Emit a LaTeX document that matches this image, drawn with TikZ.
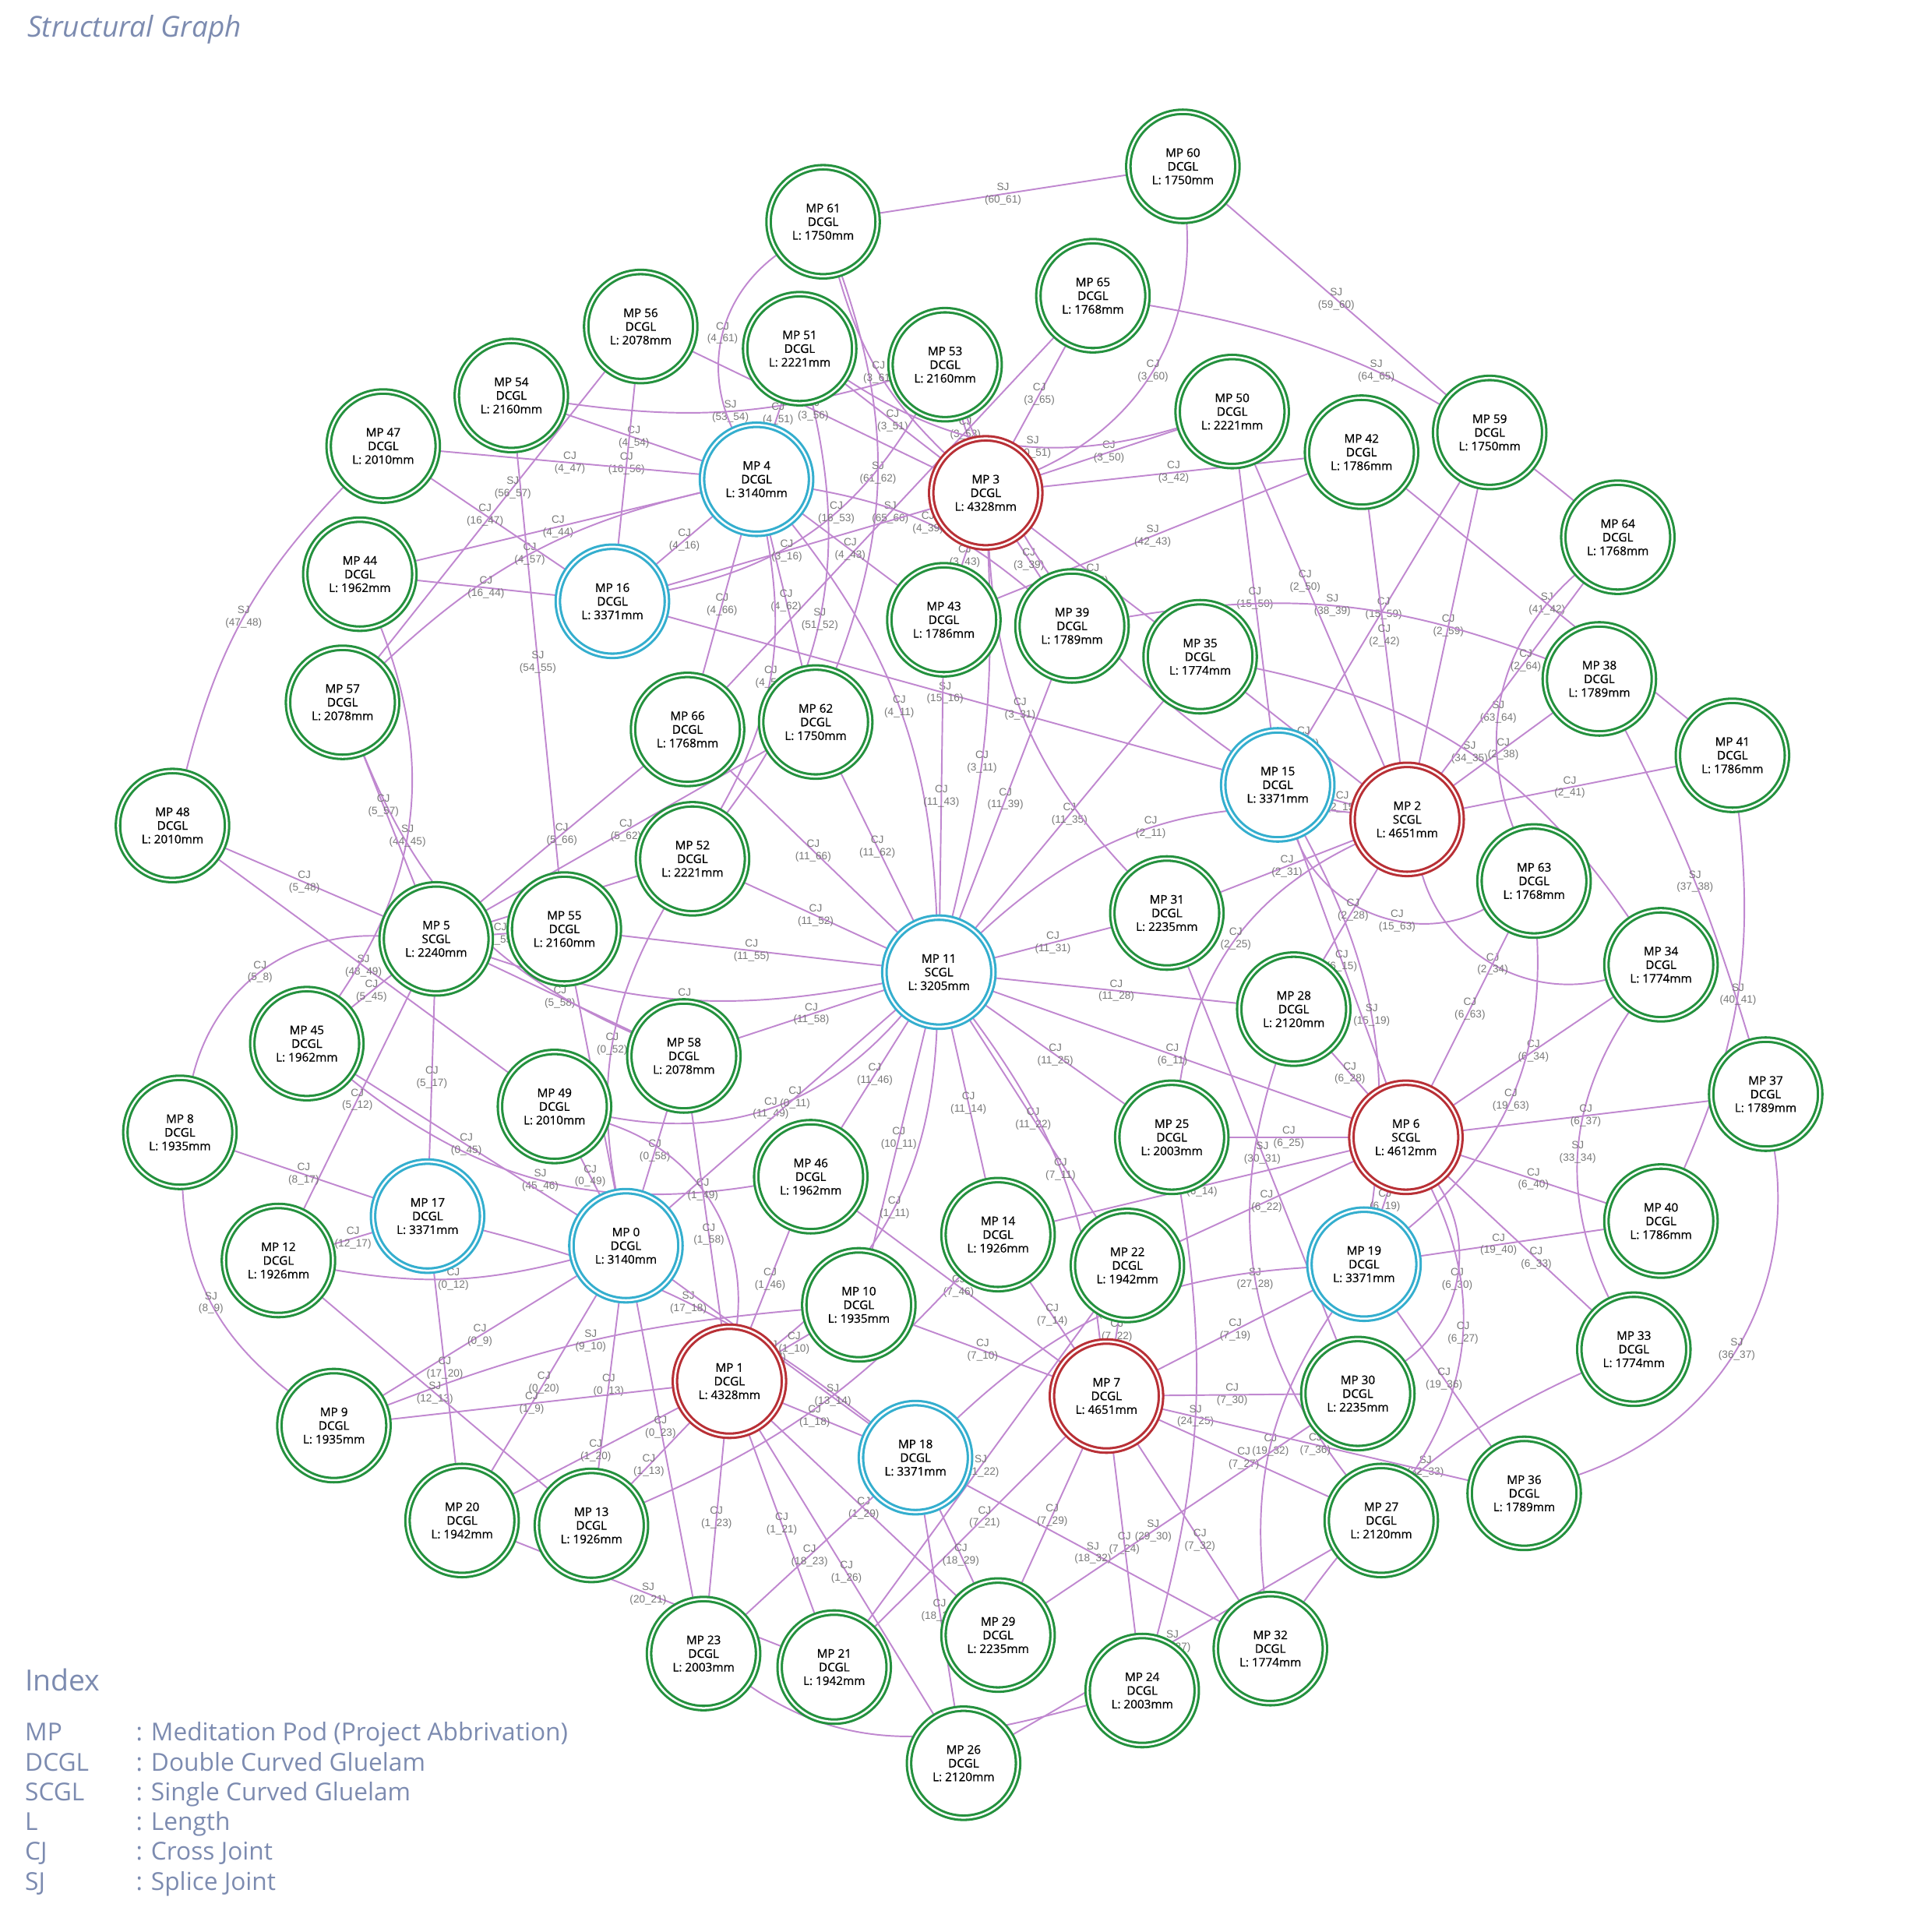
\documentclass[tikz,border=0pt]{standalone}
\usepackage{fontspec}
\setmainfont{Open Sans}
\newfontfamily\podfont[FakeBold=0.6]{Open Sans}
\newfontfamily\jointfont{Liberation Sans}
\usepackage{xcolor}
\usetikzlibrary{backgrounds}

\definecolor{podgreen}{RGB}{36,145,62}
\definecolor{podblue}{RGB}{52,174,206}
\definecolor{podred}{RGB}{184,48,54}
\definecolor{joint}{RGB}{192,136,208}
\definecolor{jointtext}{RGB}{120,120,120}
\definecolor{indextext}{RGB}{124,139,176}

\begin{document}
\begin{tikzpicture}[
    x=0.02cm, y=0.02cm,
    pod/.style={circle, fill=white, line width=1.1pt, double=white, double distance=0.9pt,
        minimum size=1.77cm, inner sep=0pt, outer sep=0pt, align=center,
        font=\podfont\fontsize{5.5}{6.3}\selectfont},
    gpod/.style={pod, draw=podgreen},
    bpod/.style={pod, draw=podblue},
    rpod/.style={pod, draw=podred},
    link/.style={draw=joint, line width=0.7pt},
    jlabel/.style={align=center, text=jointtext, inner sep=1pt, font=\jointfont\fontsize{4.9}{5.7}\selectfont},
    legend/.style={anchor=base west, text=indextext, inner sep=0pt}
]
\useasboundingbox (0,0) rectangle (1568,-1568);

\node[legend, font=\itshape\fontsize{13.3}{16}\selectfont] (title) at (22,-30) {Structural Graph};

% meditation pods
\foreach \n/\x/\y/\k/\len/\s in {
    60/960/135/DCGL/1750/gpod, 61/668/180/DCGL/1750/gpod, 65/887/240/DCGL/1768/gpod,
    56/520/265/DCGL/2078/gpod, 51/649/283/DCGL/2221/gpod, 53/767/296/DCGL/2160/gpod,
    54/415/321/DCGL/2160/gpod, 47/311/362/DCGL/2010/gpod, 50/1000/334/DCGL/2221/gpod,
    42/1105/367/DCGL/1786/gpod, 59/1209/351/DCGL/1750/gpod, 4/614/389/DCGL/3140/bpod,
    3/800/400/DCGL/4328/rpod, 64/1313/436/DCGL/1768/gpod, 44/292/466/DCGL/1962/gpod,
    16/497/488/DCGL/3371/bpod, 43/766/503/DCGL/1786/gpod, 39/870/508/DCGL/1789/gpod,
    35/974/533/DCGL/1774/gpod, 38/1298/551/DCGL/1789/gpod, 57/278/570/DCGL/2078/gpod,
    66/558/592/DCGL/1768/gpod, 62/662/586/DCGL/1750/gpod, 41/1406/613/DCGL/1786/gpod,
    48/140/670/DCGL/2010/gpod, 15/1037/637/DCGL/3371/bpod, 2/1142/665/SCGL/4651/rpod,
    52/562/697/DCGL/2221/gpod, 63/1245/715/DCGL/1768/gpod, 31/947/741/DCGL/2235/gpod,
    5/354/762/SCGL/2240/gpod, 55/458/754/DCGL/2160/gpod, 11/762/789/SCGL/3205/bpod,
    34/1348/783/DCGL/1774/gpod, 45/249/847/DCGL/1962/gpod, 58/555/857/DCGL/2078/gpod,
    28/1050/819/DCGL/2120/gpod, 49/450/898/DCGL/2010/gpod, 8/146/919/DCGL/1935/gpod,
    37/1433/888/DCGL/1789/gpod, 6/1141/923/SCGL/4612/rpod, 25/951/923/DCGL/2003/gpod,
    46/658/955/DCGL/1962/gpod, 14/810/1002/DCGL/1926/gpod, 17/347/987/DCGL/3371/bpod,
    12/226/1023/DCGL/1926/gpod, 0/508/1011/DCGL/3140/bpod, 22/915/1027/DCGL/1942/gpod,
    19/1107/1026/DCGL/3371/bpod, 40/1348/991/DCGL/1786/gpod, 10/697/1059/DCGL/1935/gpod,
    1/592/1121/DCGL/4328/rpod, 7/898/1133/DCGL/4651/rpod, 30/1102/1131/DCGL/2235/gpod,
    33/1326/1095/DCGL/1774/gpod, 9/271/1157/DCGL/1935/gpod, 18/743/1183/DCGL/3371/bpod,
    20/375/1234/DCGL/1942/gpod, 13/480/1238/DCGL/1926/gpod, 27/1121/1234/DCGL/2120/gpod,
    36/1237/1212/DCGL/1789/gpod, 29/810/1327/DCGL/2235/gpod, 23/571/1342/DCGL/2003/gpod,
    21/677/1353/DCGL/1942/gpod, 32/1031/1338/DCGL/1774/gpod, 24/927/1372/DCGL/2003/gpod,
    26/782/1431/DCGL/2120/gpod}
    \node[\s] (mp\n) at (\x,-\y) {MP \n\\\k\\L: \len mm};

\begin{pgfonlayer}{background}
% splice joints
\foreach \a/\b/\bd in {
    60/61/0, 59/60/0, 64/65/-15, 53/54/12, 61/62/20, 42/43/0,
    47/48/-15, 65/66/0, 51/52/25, 54/55/0, 41/42/0, 15/16/0,
    34/35/-22, 37/38/-5, 48/49/0, 15/19/18, 40/41/-15, 33/34/30,
    45/46/-24, 30/31/0, 17/18/12, 27/28/28, 18/19/20, 9/10/8, 8/9/-25, 12/13/0,
    21/22/0, 24/25/-12, 18/32/0, 26/27/0, 20/21/0, 32/33/15, 36/37/-40}
    \draw[link] (mp\a) to[bend left=\bd] node[jlabel] {SJ\\(\a\_\b)} (mp\b);
\draw[link] (mp23) to[out=-35, in=195] node[jlabel, pos=0.6] {SJ\\(23\_24)} (mp24);
% cross joints
\foreach \a/\b/\bd in {
    3/60/-35, 4/61/40, 3/61/15, 3/65/0, 4/51/0, 4/54/0, 16/56/0, 3/56/0, 3/51/0,
    3/53/0, 3/50/0, 3/42/0, 4/47/0, 4/44/0, 4/57/-15, 16/44/0, 4/16/0,
    4/43/0, 4/39/15, 3/43/0, 3/39/0, 3/35/0, 15/53/16, 4/62/0,
    4/66/0, 15/50/0, 15/59/0, 2/42/0, 2/59/0, 4/52/20, 4/11/18,
    2/38/0, 2/35/0, 2/41/0, 5/62/0, 11/43/0, 11/39/0,
    11/35/0, 2/15/0, 5/66/0, 5/52/0, 11/66/0, 11/62/0, 2/11/-25, 2/31/0,
    5/48/0, 11/52/0, 11/31/0, 11/55/0, 6/15/0, 2/25/-28, 2/34/-45, 5/8/-40,
    5/11/-15, 5/55/0, 11/58/0, 11/28/0, 6/63/0, 5/45/0, 5/58/0, 0/52/20, 6/11/0,
    11/25/0, 6/34/0, 6/28/0, 19/63/-27, 5/17/0, 0/55/0, 11/46/0, 11/14/0, 6/37/0,
    5/12/0, 0/45/0, 11/49/30, 11/22/0, 0/58/0, 10/11/0, 8/17/0, 0/49/0,
    7/11/-15, 1/11/-25, 6/25/0, 6/22/0, 6/14/0, 6/19/0, 6/40/0,
    12/17/0, 0/12/12, 1/46/0, 7/46/0, 6/30/45, 7/19/0, 0/9/0,
    0/18/0, 17/20/0, 1/10/0, 7/10/0, 7/14/0, 6/27/30, 0/20/0, 0/13/0, 7/22/0,
    7/30/0, 19/36/0, 1/9/0, 1/20/0, 7/27/0, 19/32/-20, 7/36/0,
    1/23/0, 7/29/0, 1/21/0, 1/29/0, 18/23/0, 7/24/0,
    1/26/0, 18/26/0}
    \draw[link] (mp\a) to[bend left=\bd] node[jlabel] {CJ\\(\a\_\b)} (mp\b);
% joints whose labels sit off the middle
\foreach \j/\a/\b/\bd/\p in {
    SJ/50/51/25/0.42, SJ/57/58/-22/0.42, SJ/13/14/-12/0.56, SJ/56/57/0/0.4,
    SJ/63/64/35/0.42, SJ/29/30/0/0.4, SJ/44/45/28/0.55, SJ/38/39/-15/0.52,
    CJ/0/11/0/0.56, CJ/16/47/0/0.6,
    CJ/3/11/8/0.58, CJ/3/31/-20/0.45, CJ/1/49/-40/0.55, CJ/1/58/0/0.42,
    CJ/1/18/0/0.4, CJ/19/40/0/0.42, CJ/6/33/0/0.62, CJ/2/64/0/0.6, CJ/7/32/0/0.62,
    CJ/0/23/0/0.42, CJ/1/13/0/0.7, CJ/16/53/-24/0.6, CJ/3/16/0/0.55,
    CJ/7/21/0/0.42, CJ/18/29/0/0.62, CJ/5/57/0/0.62, CJ/15/63/-50/0.6,
    CJ/2/28/0/0.45, CJ/2/50/0/0.62}
    \draw[link] (mp\a) to[bend left=\bd] node[jlabel, pos=\p] {\j\\(\a\_\b)} (mp\b);
\end{pgfonlayer}

% index
\node[legend, font=\fontsize{13.5}{16}\selectfont] (index) at (20,-1372) {Index};
\foreach \k/\d [count=\i from 0] in {MP/Meditation Pod (Project Abbrivation),
    DCGL/Double Curved Gluelam, SCGL/Single Curved Gluelam, L/Length,
    CJ/Cross Joint, SJ/Splice Joint} {
    \node[legend, font=\fontsize{11.4}{13}\selectfont] (key\i) at (20,-1413-24.2*\i) {\k};
    \node[legend, font=\fontsize{11.4}{13}\selectfont] (desc\i) at (110,-1413-24.2*\i) {: \d};
}
\end{tikzpicture}
\end{document}
